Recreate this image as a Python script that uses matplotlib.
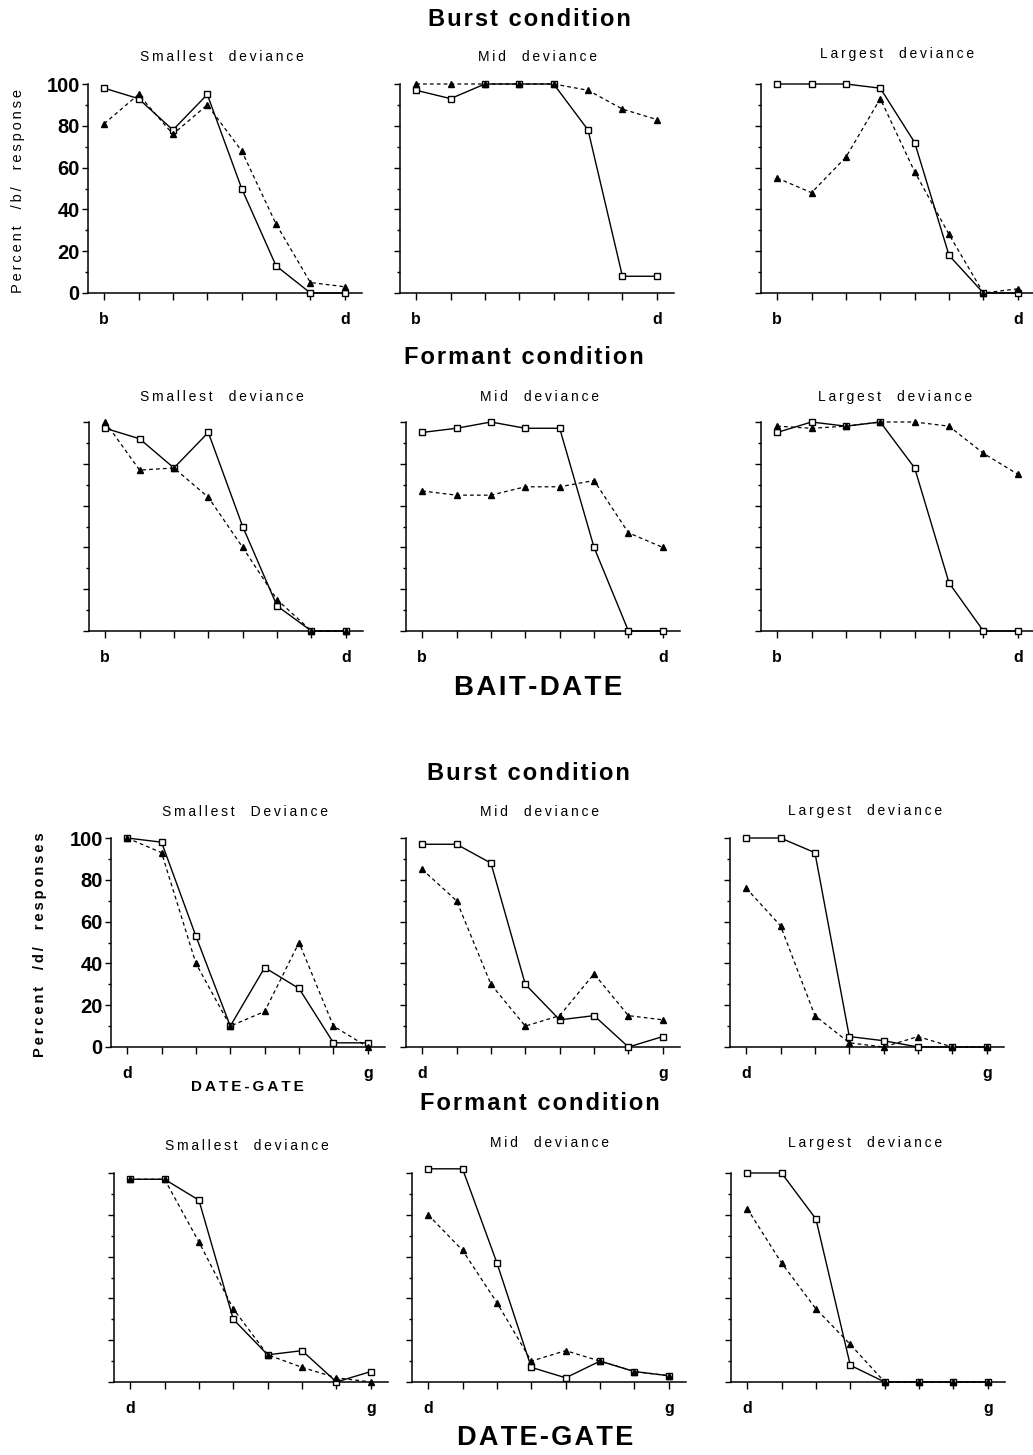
import matplotlib
matplotlib.use("Agg")
import matplotlib.pyplot as plt
import numpy as np

#============================================================
# Datos (porcentaje de respuestas), 8 pasos del continuo
#============================================================

pasos = np.arange(8)

# BAIT-DATE, condicion Burst
bd_burst_small_sq = [98, 93, 78, 95, 50, 13, 0, 0]
bd_burst_small_tri = [81, 95, 76, 90, 68, 33, 5, 3]
bd_burst_mid_sq = [97, 93, 100, 100, 100, 78, 8, 8]
bd_burst_mid_tri = [100, 100, 100, 100, 100, 97, 88, 83]
bd_burst_large_sq = [100, 100, 100, 98, 72, 18, 0, 0]
bd_burst_large_tri = [55, 48, 65, 93, 58, 28, 0, 2]

# BAIT-DATE, condicion Formant
bd_form_small_sq = [97, 92, 78, 95, 50, 12, 0, 0]
bd_form_small_tri = [100, 77, 78, 64, 40, 15, 0, 0]
bd_form_mid_sq = [95, 97, 100, 97, 97, 40, 0, 0]
bd_form_mid_tri = [67, 65, 65, 69, 69, 72, 47, 40]
bd_form_large_sq = [95, 100, 98, 100, 78, 23, 0, 0]
bd_form_large_tri = [98, 97, 98, 100, 100, 98, 85, 75]

# DATE-GATE, condicion Burst
dg_burst_small_sq = [100, 98, 53, 10, 38, 28, 2, 2]
dg_burst_small_tri = [100, 93, 40, 10, 17, 50, 10, 0]
dg_burst_mid_sq = [97, 97, 88, 30, 13, 15, 0, 5]
dg_burst_mid_tri = [85, 70, 30, 10, 15, 35, 15, 13]
dg_burst_large_sq = [100, 100, 93, 5, 3, 0, 0, 0]
dg_burst_large_tri = [76, 58, 15, 2, 0, 5, 0, 0]

# DATE-GATE, condicion Formant
dg_form_small_sq = [97, 97, 87, 30, 13, 15, 0, 5]
dg_form_small_tri = [97, 97, 67, 35, 13, 7, 2, 0]
dg_form_mid_sq = [102, 102, 57, 7, 2, 10, 5, 3]
dg_form_mid_tri = [80, 63, 38, 10, 15, 10, 5, 3]
dg_form_large_sq = [100, 100, 78, 8, 0, 0, 0, 0]
dg_form_large_tri = [83, 57, 35, 18, 0, 0, 0, 0]

etiquetas_bd = ['b', '', '', '', '', '', '', 'd']
etiquetas_dg = ['d', '', '', '', '', '', '', 'g']
yticks = [0, 20, 40, 60, 80, 100]

#============================================================
# Figura
#============================================================

plt.rcParams['font.family'] = ['Liberation Sans', 'DejaVu Sans']

W, H = 1033, 1455
AW, AH = 274, 209
fig = plt.figure(figsize=(W / 100, H / 100), dpi=100)


def espaciar(s, sep='\u2009'):
    # letras separadas, como en el original
    return sep.join(s)


def panel(x0, y_bottom, sq, tri, etiquetas, con_numeros):
    ax = fig.add_axes([x0 / W, 1 - y_bottom / H, AW / W, AH / H])
    ax.plot(pasos, sq, '-', color='black', lw=1.0, marker='s', ms=5,
            mfc='white', mec='black', mew=1.0, clip_on=False, zorder=3)
    ax.plot(pasos, tri, color='black', lw=0.9, ls=(0, (3, 2.5)), marker='^',
            ms=5, mfc='black', mec='black', clip_on=False, zorder=4)
    ax.set_xlim(-0.47, 7.5)
    ax.set_ylim(0, 100)
    ax.spines['top'].set_visible(False)
    ax.spines['right'].set_visible(False)
    ax.spines['left'].set_linewidth(1.1)
    ax.spines['bottom'].set_linewidth(1.1)
    ax.set_xticks(pasos)
    ax.set_xticklabels(etiquetas, fontsize=11.5, fontweight='bold')
    ax.tick_params(axis='x', length=5, width=1, pad=9)
    ax.set_yticks(yticks)
    ax.set_yticks(np.arange(10, 100, 20), minor=True)
    ax.tick_params(axis='y', which='major', length=4, width=1, pad=2)
    ax.tick_params(axis='y', which='minor', length=2, width=1)
    if con_numeros:
        ax.set_yticklabels([str(v) for v in yticks], fontsize=14.5,
                           fontweight='bold')
    else:
        ax.set_yticklabels([])
    return ax


def subtitulo(x, y, s):
    fig.text(x / W, 1 - y / H, espaciar(s), ha='center', va='center',
             fontsize=10)


def titulo(x, y, s, size):
    fig.text(x / W, 1 - y / H, espaciar(s, '\u200a'), ha='center',
             va='center', fontsize=size, fontweight='bold')


# BAIT-DATE
panel(88, 293, bd_burst_small_sq, bd_burst_small_tri, etiquetas_bd, True)
panel(400, 293, bd_burst_mid_sq, bd_burst_mid_tri, etiquetas_bd, False)
panel(761, 293, bd_burst_large_sq, bd_burst_large_tri, etiquetas_bd, False)
panel(89, 631, bd_form_small_sq, bd_form_small_tri, etiquetas_bd, False)
panel(406, 631, bd_form_mid_sq, bd_form_mid_tri, etiquetas_bd, False)
panel(761, 631, bd_form_large_sq, bd_form_large_tri, etiquetas_bd, False)

# DATE-GATE
panel(111, 1047, dg_burst_small_sq, dg_burst_small_tri, etiquetas_dg, True)
panel(406, 1047, dg_burst_mid_sq, dg_burst_mid_tri, etiquetas_dg, False)
panel(730, 1047, dg_burst_large_sq, dg_burst_large_tri, etiquetas_dg, False)
panel(114, 1382, dg_form_small_sq, dg_form_small_tri, etiquetas_dg, False)
panel(412, 1382, dg_form_mid_sq, dg_form_mid_tri, etiquetas_dg, False)
panel(731, 1382, dg_form_large_sq, dg_form_large_tri, etiquetas_dg, False)

#============================================================
# Titulos
#============================================================

titulo(529, 20, 'Burst condition', 17)
subtitulo(222, 57, 'Smallest  deviance')
subtitulo(537, 57, 'Mid  deviance')
subtitulo(897, 54, 'Largest  deviance')

titulo(524, 357, 'Formant condition', 17)
subtitulo(222, 397, 'Smallest  deviance')
subtitulo(540, 397, 'Mid  deviance')
subtitulo(895, 397, 'Largest  deviance')
titulo(538, 688, 'BAIT-DATE', 20)

titulo(528, 773, 'Burst condition', 17)
subtitulo(245, 812, 'Smallest  Deviance')
subtitulo(540, 812, 'Mid  deviance')
subtitulo(865, 811, 'Largest  deviance')
fig.text(247 / W, 1 - 1087 / H, espaciar('DATE-GATE'), ha='center',
         va='center', fontsize=11, fontweight='bold')

titulo(540, 1103, 'Formant condition', 17)
subtitulo(247, 1146, 'Smallest  deviance')
subtitulo(549, 1143, 'Mid  deviance')
subtitulo(865, 1143, 'Largest  deviance')
titulo(545, 1438, 'DATE-GATE', 19.5)

fig.text(18 / W, 1 - 191 / H, espaciar('Percent  /b/  response'), rotation=90,
         ha='center', va='center', fontsize=10.5)
fig.text(40 / W, 1 - 945 / H, espaciar('Percent  /d/  responses'), rotation=90,
         ha='center', va='center', fontsize=10.5, fontweight='bold')

fig.savefig('out.png', dpi=100)
